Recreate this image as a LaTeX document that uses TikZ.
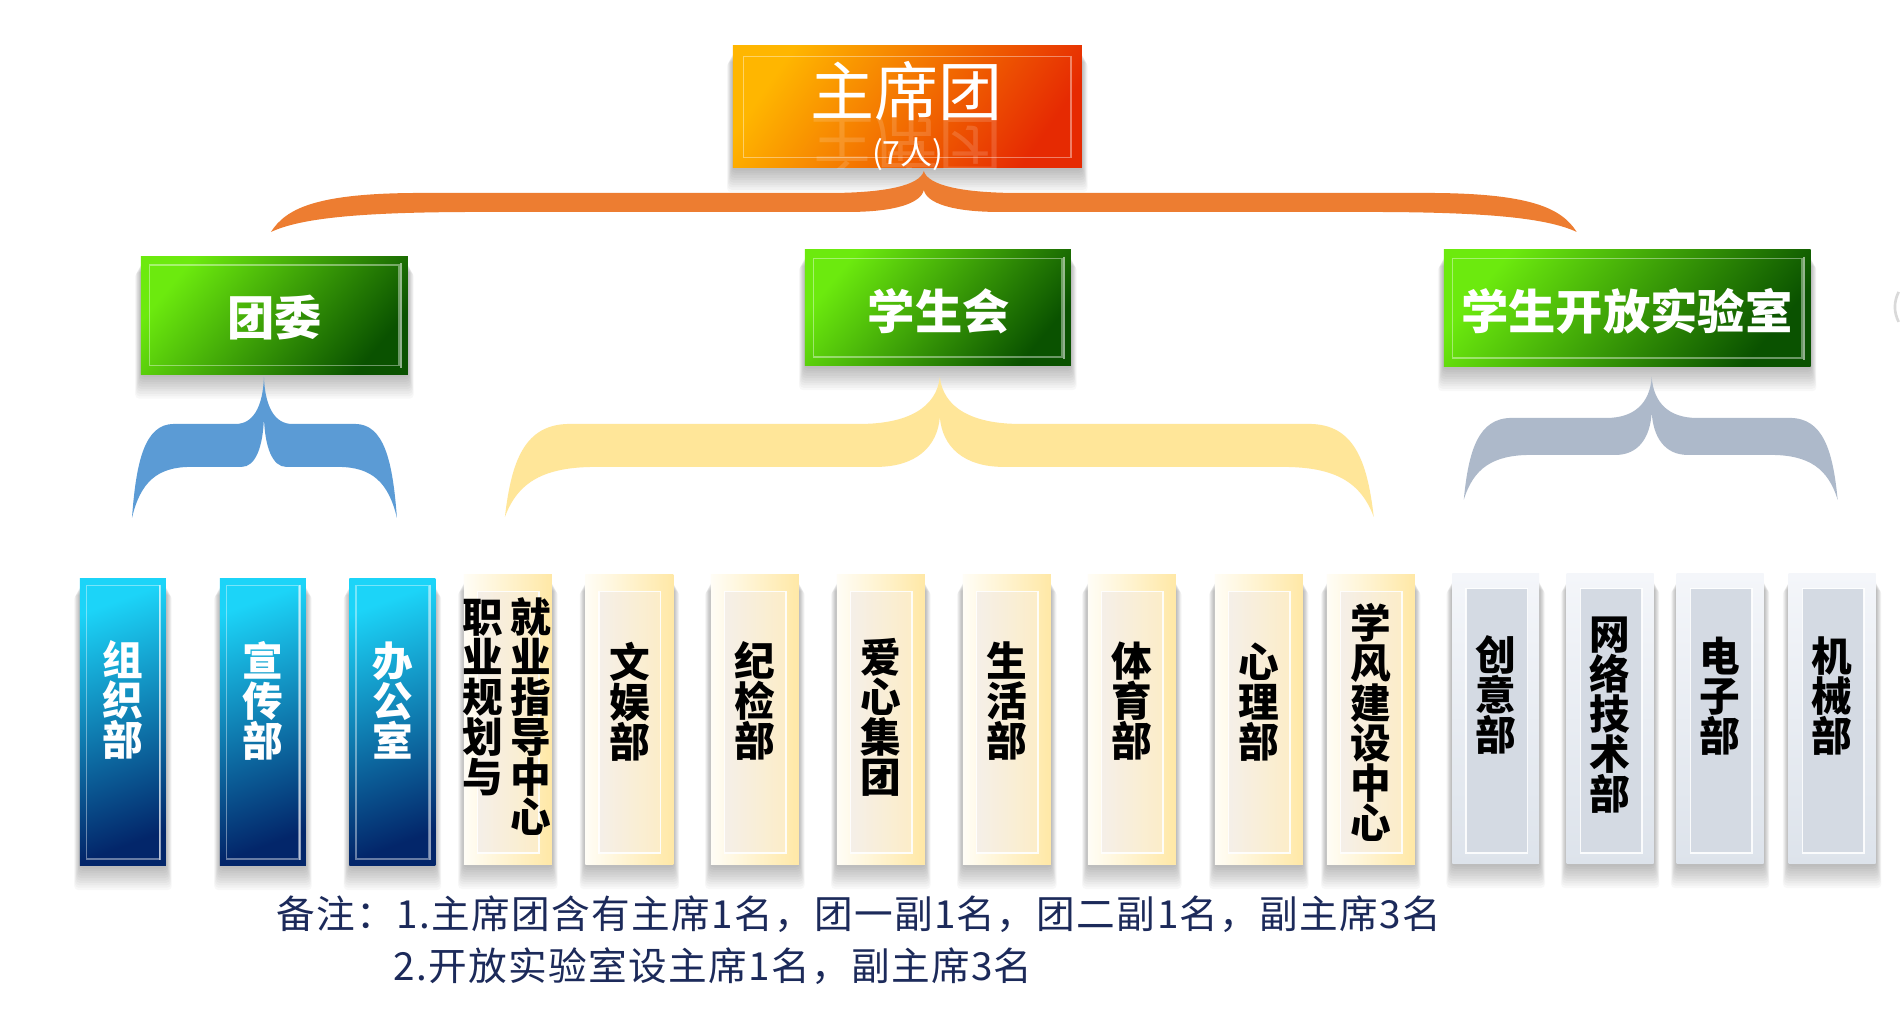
\documentclass[tikz,border=0pt]{standalone}
\usepackage{fontspec}
\usepackage{graphicx}
\newfontfamily\cjk{Noto Sans CJK SC}
\newfontfamily\notefont{Noto Sans CJK SC}[LetterSpace=3.5]
\pgfdeclarelayer{bgzero}
\pgfdeclarelayer{shadowlayer}
\pgfsetlayers{bgzero,shadowlayer,main}
\definecolor{notec}{HTML}{1C2A5A}
\definecolor{orA}{HTML}{FFB600}
\definecolor{orB}{HTML}{F37410}
\definecolor{orC}{HTML}{E62A02}
\definecolor{grA}{HTML}{6CEA0E}
\definecolor{grB}{HTML}{33A002}
\definecolor{grC}{HTML}{0A5200}
\definecolor{blA}{HTML}{1CD4F8}
\definecolor{blB}{HTML}{0482BE}
\definecolor{blC}{HTML}{03266A}
\definecolor{yeA}{HTML}{FFFDF6}
\definecolor{yeB}{HTML}{FFE8A6}
\definecolor{ypA}{HTML}{F5EFE8}
\definecolor{ypB}{HTML}{FCEDC8}
\definecolor{sgA}{HTML}{F4F6FA}
\definecolor{sgB}{HTML}{DDE3EB}
\definecolor{spA}{HTML}{D4DAE3}
\definecolor{brOr}{HTML}{ED7D31}
\definecolor{brBl}{HTML}{5B9BD5}
\definecolor{brYe}{HTML}{FFE699}
\definecolor{brGr}{HTML}{ADB9CA}
% curly brace: xl xc xr ytip ytop ybot yend R T
\newcommand\curly[9]{%
\fill ({#1},{#7}) .. controls ({#1+0.1*#8},{#5+0.4*(#7-#5)}) and ({#1+0.3*#8},{#5}) .. ({#1+#8},{#5})
 -- ({#2-#9},{#5}) .. controls ({#2-0.4*#9},{#5}) and ({#2-0.04*#9},{#5-0.35*(#5-#4)}) .. ({#2},{#4})
 .. controls ({#2+0.04*#9},{#5-0.35*(#5-#4)}) and ({#2+0.4*#9},{#5}) .. ({#2+#9},{#5})
 -- ({#3-#8},{#5}) .. controls ({#3-0.3*#8},{#5}) and ({#3-0.1*#8},{#5+0.4*(#7-#5)}) .. ({#3},{#7})
 .. controls ({#3-0.2*#8},{#6+0.3*(#7-#6)}) and ({#3-0.6*#8},{#6}) .. ({#3-1.4*#8},{#6})
 -- ({#2+0.8*#9},{#6}) .. controls ({#2+0.3*#9},{#6}) and ({#2+0.03*#9},{#6-0.4*(#6-#5+0.16*(#6-#5))}) .. ({#2},{#5-0.16*(#6-#5)})
 .. controls ({#2-0.03*#9},{#6-0.4*(#6-#5+0.16*(#6-#5))}) and ({#2-0.3*#9},{#6}) .. ({#2-0.8*#9},{#6})
 -- ({#1+1.4*#8},{#6}) .. controls ({#1+0.6*#8},{#6}) and ({#1+0.2*#8},{#6+0.3*(#7-#6)}) .. ({#1},{#7}) -- cycle;}
\newcommand\bevel[3]{\path[#3] ([shift={(#2,#2)}]#1.north west) rectangle ([shift={(-#2,-#2)}]#1.south east);}
\newcommand\bevelr[2]{\draw[white, draw opacity=0.55, line width=1.5pt] ([shift={(-#2,#2)}]#1.north east) -- ([shift={(-#2,-#2)}]#1.south east);}
\newcommand\softshadow[1]{%
  \begin{pgfonlayer}{shadowlayer}
  \foreach \k in {1,...,10}{
    \fill[black, opacity=0.028, rounded corners=3pt] ([shift={(-0.55*\k,6+\k)}]#1.north west) rectangle ([shift={(0.55*\k,2.4*\k)}]#1.south east);
  }
  \end{pgfonlayer}}
\newcommand\vc[1]{\raisebox{0pt}[0.8em][0.15em]{#1}}
\tikzset{
  boxbase/.style={rectangle, inner sep=0pt, draw=none},
  obox/.style={boxbase, top color=orA, middle color=orB, bottom color=orC, shading angle=55},
  gbox/.style={boxbase, top color=grA, middle color=grB, bottom color=grC, shading angle=50},
  bbox/.style={boxbase, top color=blA, middle color=blB, bottom color=blC, shading angle=20},
  ybox/.style={boxbase, left color=yeA, right color=yeB},
  sbox/.style={boxbase, top color=sgA, bottom color=sgB},
  bevline/.style={draw=white, draw opacity=0.4, line width=1.1pt},
  ypanel/.style={left color=ypA, right color=ypB, draw=white, draw opacity=0.9, line width=1.2pt},
  spanel/.style={fill=spA, draw=white, draw opacity=0.9, line width=1.2pt},
  vtext/.style={font=\cjk\bfseries\fontsize{30.5}{30}\selectfont, align=center, inner sep=0pt},
  gtext/.style={font=\cjk\bfseries\fontsize{35.5}{36}\selectfont, text=white, inner sep=0pt},
  notetext/.style={font=\notefont\fontsize{29}{30}\selectfont, text=notec, inner sep=0pt, anchor=west}
}
\newcommand\bluebox[4]{%
  \node[bbox, minimum width=86*0.75pt, minimum height=287*0.75pt] (#1) at (#2,722.5) {};
  \softshadow{#1}
  \bevel{#1}{7}{bevline}\bevelr{#1}{6}
  \node[vtext, text=white] (t#1) at (#2,#4) {#3};}
\newcommand\beigebox[4]{%
  \node[ybox, minimum width=88*0.75pt, minimum height=290*0.75pt] (#1) at (#2,720) {};
  \softshadow{#1}
  \path[ypanel] ([shift={(14,17)}]#1.north west) rectangle ([shift={(-13,-12)}]#1.south east);
  \node[vtext, text=black] (t#1) at (#2,#4) {#3};}
\newcommand\graybox[4]{%
  \node[sbox, minimum width=87*0.75pt, minimum height=290*0.75pt] (#1) at (#2,719) {};
  \softshadow{#1}
  \path[spanel] ([shift={(14,15)}]#1.north west) rectangle ([shift={(-12,-11)}]#1.south east);
  \node[vtext, text=black] (t#1) at (#2,#4) {#3};}
\begin{document}
\begin{tikzpicture}[x=0.75pt,y=-0.75pt]
\begin{pgfonlayer}{bgzero}
\useasboundingbox[fill=white] (0,0) rectangle (1900,1020);
\end{pgfonlayer}
% braces
\begin{scope}[fill=brOr]\curly{271}{924}{1577}{171}{193}{212}{232}{150}{95}\end{scope}
\begin{scope}[fill=brBl]\curly{132}{264}{397}{377}{424}{467}{518}{42}{28}\end{scope}
\begin{scope}[fill=brYe]\curly{505}{940}{1374}{377}{424}{467}{517}{65}{80}\end{scope}
\begin{scope}[fill=brGr]\curly{1464}{1652}{1838}{377}{418}{455}{500}{48}{45}\end{scope}
% cut-off mark at the right edge
\draw[line width=2pt, color=black!15] (1899,292) .. controls (1894,302) and (1894,312) .. (1899,322);
% top box
\node[obox, minimum width=349*0.75pt, minimum height=122*0.75pt] (zxt) at (907.5,107) {};
\softshadow{zxt}
\bevel{zxt}{11}{bevline}
\node[font=\cjk\fontsize{48}{48}\selectfont, text=white, inner sep=0pt] (zxtT) at (907,91) {主席团};
\begin{scope}
\clip (zxt.north west) rectangle (zxt.south east);
\node[font=\cjk\fontsize{48}{48}\selectfont, text=white, text opacity=0.15, inner sep=0pt, anchor=north] (zxtR) at (907,115) {\scalebox{1}[-1]{主席团}};
\end{scope}
\node[font=\cjk\fontsize{24}{24}\selectfont, text=white, inner sep=0pt] (zxtN) at (908,154) {(7人)};
% green boxes
\node[gbox, minimum width=267*0.75pt, minimum height=118*0.75pt] (tw) at (274.5,315.5) {};
\softshadow{tw}
\bevel{tw}{9}{bevline}\bevelr{tw}{7}
\node[gtext] (twT) at (275,318) {团委};
\node[gbox, minimum width=266*0.75pt, minimum height=116*0.75pt] (xsh) at (938,308) {};
\softshadow{xsh}
\bevel{xsh}{9}{bevline}\bevelr{xsh}{7}
\node[gtext] (xshT) at (939,311) {学生会};
\node[gbox, minimum width=367*0.75pt, minimum height=117*0.75pt] (sys) at (1627.5,308.5) {};
\softshadow{sys}
\bevel{sys}{9}{bevline}\bevelr{sys}{7}
\node[gtext] (sysT) at (1627,311) {学生开放实验室};
% blue boxes
\bluebox{zzb}{123}{\vc{组}\\\vc{织}\\\vc{部}}{702}
\bluebox{xcb}{263}{\vc{宣}\\\vc{传}\\\vc{部}}{703}
\bluebox{bgs}{392.5}{\vc{办}\\\vc{公}\\\vc{室}}{703}
% beige boxes
\beigebox{jy}{508}{}{720}
\node[vtext, text=black, anchor=north] (tjyA) at (531,600) {\vc{就}\\\vc{业}\\\vc{指}\\\vc{导}\\\vc{中}\\\vc{心}};
\node[vtext, text=black, anchor=north] (tjyB) at (483,600) {\vc{职}\\\vc{业}\\\vc{规}\\\vc{划}\\\vc{与}};
\beigebox{wy}{629.5}{\vc{文}\\\vc{娱}\\\vc{部}}{704}
\beigebox{jj}{755}{\vc{纪}\\\vc{检}\\\vc{部}}{703}
\beigebox{ax}{881}{\vc{爱}\\\vc{心}\\\vc{集}\\\vc{团}}{719}
\beigebox{shb}{1007}{\vc{生}\\\vc{活}\\\vc{部}}{703}
\beigebox{tyb}{1132}{\vc{体}\\\vc{育}\\\vc{部}}{703}
\beigebox{xlb}{1259}{\vc{心}\\\vc{理}\\\vc{部}}{704}
\beigebox{xf}{1371}{\vc{学}\\\vc{风}\\\vc{建}\\\vc{设}\\\vc{中}\\\vc{心}}{725}
% gray boxes
\graybox{cy}{1496}{\vc{创}\\\vc{意}\\\vc{部}}{697}
\graybox{wl}{1610.5}{\vc{网}\\\vc{络}\\\vc{技}\\\vc{术}\\\vc{部}}{716}
\graybox{dz}{1720.5}{\vc{电}\\\vc{子}\\\vc{部}}{698}
\graybox{jx}{1832.5}{\vc{机}\\\vc{械}\\\vc{部}}{698}
% note
\node[notetext] (note1) at (276,914) {备注：1.主席团含有主席1名，团一副1名，团二副1名，副主席3名};
\node[notetext] (note2) at (393,966) {2.开放实验室设主席1名，副主席3名};
\end{tikzpicture}
\end{document}
